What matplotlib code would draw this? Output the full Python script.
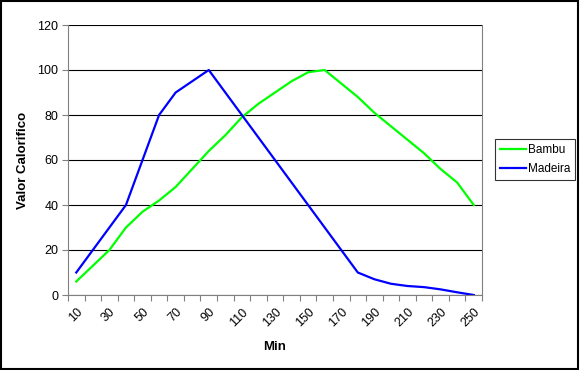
import numpy as np
import matplotlib.pyplot as plt

plt.rcParams['font.family'] = ['Liberation Sans', 'DejaVu Sans']

# dados
minutos = list(range(10, 260, 10))
bambu = [6, 13, 20, 30, 37, 42, 48, 56, 64, 71, 79, 85, 90, 95, 99, 100,
         94, 88, 81, 75, 69, 63, 56, 50, 40]
madeira = [10, 20, 30, 40, 60, 80, 90, 95, 100, 90, 80, 70, 60, 50, 40, 30,
           20, 10, 7, 5, 4, 3.5, 2.5, 1.2, 0]
y_ticks = [0, 20, 40, 60, 80, 100, 120]

fig = plt.figure(figsize=(5.8, 3.7), dpi=100)
ax = fig.add_axes([68/580, 75/370, 414/580, 270/370])

x = np.arange(len(minutos))
ax.plot(x, bambu, color='#00ff00', lw=1.6, label='Bambu')
ax.plot(x, madeira, color='#0000ff', lw=1.6, label='Madeira')

ax.set_xlim(-0.5, len(minutos) - 0.5)
ax.set_ylim(0, 120)
ax.set_yticks(y_ticks)
ax.yaxis.grid(True, color='black', lw=0.8)
ax.set_axisbelow(True)

# ticks entre categorias, rotulos a cada dois
ax.set_xticks(np.arange(-0.5, len(minutos), 1))
ax.set_xticklabels([])
ax.set_xticks(x[::2], minor=True)
ax.set_xticklabels([str(m) for m in minutos[::2]], minor=True,
                   rotation=45, ha='right', va='top', rotation_mode='anchor')
ax.tick_params(axis='x', which='major', length=4, color='#808080')
ax.tick_params(axis='x', which='minor', length=0, pad=8, labelsize=9)
ax.tick_params(axis='y', length=4, color='#808080', labelsize=9, pad=3)

for s in ['left', 'bottom', 'right']:
    ax.spines[s].set_color('#808080')
ax.spines['top'].set_visible(False)

ax.set_xlabel('Min', fontsize=9.5, fontweight='bold', labelpad=8)
ax.set_ylabel('Valor Calorifico', fontsize=9.5, fontweight='bold', labelpad=6)

leg = fig.legend(loc='upper left', bbox_to_anchor=(495/580, 1 - 139/370),
                 fontsize=8.5, frameon=True, fancybox=False, handlelength=2.2,
                 handletextpad=0.2, borderpad=0.4, labelspacing=0.6,
                 borderaxespad=0)
leg.get_frame().set_edgecolor('black')
leg.get_frame().set_linewidth(0.8)

fig.patches.append(plt.Rectangle((0.002, 0.003), 0.995, 0.994,
                                 transform=fig.transFigure, fill=False,
                                 edgecolor='black', lw=1.5))

fig.savefig('out.png', dpi=100)
